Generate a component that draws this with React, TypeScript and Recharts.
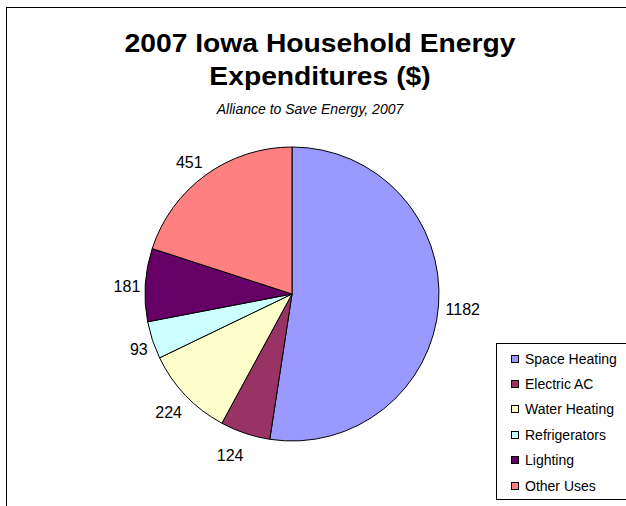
import { PieChart, Pie, Cell, Legend } from 'recharts';

const categories = ['Space Heating', 'Electric AC', 'Water Heating', 'Refrigerators', 'Lighting', 'Other Uses'];
const expenditures = [1182, 124, 224, 93, 181, 451];
const colors = ['#9999FF', '#993366', '#FFFFCC', '#CCFFFF', '#660066', '#FF8080'];

const data = categories.map((name, i) => ({ name, value: expenditures[i] }));

const FONT = 'Arial, "Liberation Sans", sans-serif';
const RADIAN = Math.PI / 180;

// Excel-style label: text edge touches a point just outside the slice
const renderLabel = ({ cx, cy, midAngle, outerRadius, value }: any) => {
  const r = outerRadius + 5;
  const ux = Math.cos(-midAngle * RADIAN);
  const uy = Math.sin(-midAngle * RADIAN);
  const px = cx + r * ux;
  const py = cy + r * uy;
  const centerY = py + 3 + uy * 15;
  return (
    <text
      x={ux >= 0 ? px + 2 : px}
      y={centerY + 5.7}
      textAnchor={ux >= 0 ? 'start' : 'end'}
      fontSize={16}
      fontFamily={FONT}
      fill="#000"
    >
      {value}
    </text>
  );
};

const renderLegend = () => (
  <div style={{ position: 'relative', border: '1px solid #000', width: 140, height: 157, boxSizing: 'border-box', background: '#fff' }}>
    {categories.map((name, i) => (
      <div key={name} style={{ position: 'absolute', left: 0, top: 2 + i * 25.4, height: 25.4, display: 'flex', alignItems: 'center', fontFamily: FONT, fontSize: 14, color: '#000' }}>
        <span style={{ display: 'inline-block', width: 8, height: 8, boxSizing: 'border-box', border: '1px solid #000', background: colors[i], marginLeft: 14, marginRight: 6 }} />
        <span style={{ whiteSpace: 'nowrap' }}>{name}</span>
      </div>
    ))}
  </div>
);

export default function App() {
  return (
    <div style={{ position: 'absolute', left: 0, top: 0, width: 626, height: 506, overflow: 'hidden', background: '#fff' }}>
      <div style={{ position: 'absolute', left: 6, top: 7, width: 640, height: 520, border: '1px solid #000' }} />
      <div style={{ position: 'absolute', left: 120, width: 400, top: 27, textAlign: 'center', fontFamily: FONT, fontWeight: 'bold', fontSize: 25, lineHeight: '33px', color: '#000', transform: 'scaleX(1.13)', transformOrigin: '200px 0' }}>
        2007 Iowa Household Energy<br />Expenditures ($)
      </div>
      <div style={{ position: 'absolute', left: 110, width: 400, top: 101, textAlign: 'center', fontFamily: FONT, fontStyle: 'italic', fontSize: 14, color: '#000' }}>
        Alliance to Save Energy, 2007
      </div>
      <PieChart width={626} height={506} margin={{ top: 0, right: 0, bottom: 0, left: 0 }} style={{ position: 'absolute', left: 0, top: 0 }}>
        <Pie
          data={data}
          dataKey="value"
          nameKey="name"
          cx={292}
          cy={294}
          outerRadius={147}
          startAngle={90}
          endAngle={-270}
          stroke="#000"
          strokeWidth={1}
          label={renderLabel}
          labelLine={false}
          isAnimationActive={false}
        >
          {data.map((d, i) => (
            <Cell key={d.name} fill={colors[i]} />
          ))}
        </Pie>
        <Legend content={renderLegend} wrapperStyle={{ left: 496, top: 343, width: 140, bottom: 'auto', right: 'auto' }} />
      </PieChart>
    </div>
  );
}
